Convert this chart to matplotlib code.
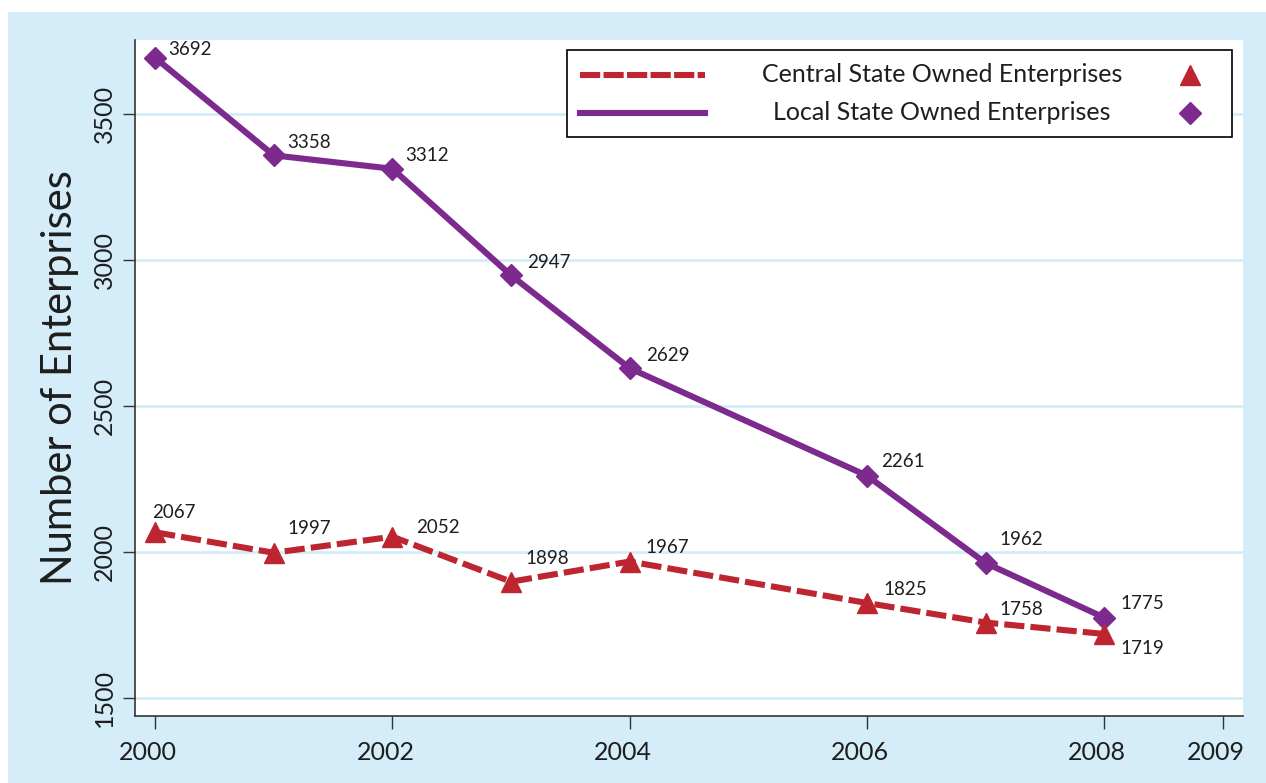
import matplotlib.pyplot as plt
import matplotlib.transforms as mtransforms
from matplotlib.patches import Rectangle
from matplotlib.lines import Line2D

plt.rcParams['font.family'] = ['Lato', 'DejaVu Sans']

years_central = [2000, 2001, 2002, 2003, 2004, 2006, 2007, 2008]
central_soe = [2067, 1997, 2052, 1898, 1967, 1825, 1758, 1719]

years_local = [2000, 2001, 2002, 2003, 2004, 2006, 2007, 2008]
local_soe = [3692, 3358, 3312, 2947, 2629, 2261, 1962, 1775]

series_names = ['Central State Owned Enterprises', 'Local State Owned Enterprises']

x_ticks = [2000, 2002, 2004, 2006, 2008, 2009]
y_ticks = [1500, 2000, 2500, 3000, 3500]

# label offsets in pixels (dx, dy), text anchored left-center
central_offsets = [(-3, 20), (14, 24), (24, 9), (14, 23), (16, 14), (16, 13), (14, 13), (16, -15)]
local_offsets = [(13, 8), (13, 13), (13, 13), (16, 13), (16, 13), (14, 14), (14, 23), (16, 14)]

RED = '#bd2531'
PURPLE = '#7d2a8e'
BG = '#d4edf9'
GRID = '#d4ecf8'
INK = '#1e1e1e'

W, H = 1266, 783
AX_L, AX_R, AX_T, AX_B = 135, 1243, 40, 716

fig = plt.figure(figsize=(W / 100, H / 100), dpi=100, facecolor='white')
fig.patches.append(Rectangle((8 / W, 0), 1 - 8 / W, 1 - 12 / H,
                             transform=fig.transFigure, facecolor=BG,
                             edgecolor='none', zorder=-10))

ax = fig.add_axes([AX_L / W, (H - AX_B) / H, (AX_R - AX_L) / W, (AX_B - AX_T) / H])
ax.set_facecolor('white')

ax.plot(years_local, local_soe, color=PURPLE, lw=4.4, marker='D', ms=11,
        solid_joinstyle='miter', zorder=3)
ax.plot(years_central, central_soe, color=RED, lw=4.4, marker='^', ms=14,
        dashes=(3.3, 1.0), dash_capstyle='butt', zorder=3)

for x, y, off in zip(years_central, central_soe, central_offsets):
    ax.annotate(str(y), (x, y), xytext=off, textcoords='offset pixels',
                ha='left', va='center', fontsize=13.5, color=INK)
for x, y, off in zip(years_local, local_soe, local_offsets):
    ax.annotate(str(y), (x, y), xytext=off, textcoords='offset pixels',
                ha='left', va='center', fontsize=13.5, color=INK)

ax.set_xlim(1999.83, 2009.17)
ax.set_ylim(1438, 3753)
ax.set_xticks(x_ticks)
ax.set_yticks(y_ticks)
ax.tick_params(axis='x', labelsize=18, length=9, width=1, color='#333333', pad=9,
               labelcolor=INK)
ax.tick_params(axis='y', labelsize=18, length=9, width=1, color='#333333', pad=5,
               labelrotation=90, labelcolor=INK)
shift = mtransforms.ScaledTranslation(-7 / 100, 0, fig.dpi_scale_trans)
for lab in ax.get_xticklabels():
    lab.set_transform(lab.get_transform() + shift)
for lab in ax.get_yticklabels():
    lab.set_va('center')
ax.yaxis.grid(True, color=GRID, lw=2)
ax.set_axisbelow(True)
for s in ['top', 'right']:
    ax.spines[s].set_visible(False)
for s in ['left', 'bottom']:
    ax.spines[s].set_color('#333333')
    ax.spines[s].set_linewidth(1.2)

ax.set_ylabel('Number of Enterprises', fontsize=30, labelpad=10, color=INK)


# legend box drawn in axes fraction, from pixel layout of the reference
def px(x, y):
    return (x - AX_L) / (AX_R - AX_L), (AX_B - y) / (AX_B - AX_T)


x0, y0 = px(567, 137)
x1, y1 = px(1232, 50)
ax.add_patch(Rectangle((x0, y0), x1 - x0, y1 - y0, transform=ax.transAxes,
                       facecolor='white', edgecolor='black', lw=1.2, zorder=5))
rows = [(75, RED, '^', 14, (3.3, 0.55)), (113, PURPLE, 'D', 11, None)]
for name, (ry, col, mk, ms, dash) in zip(series_names, rows):
    ha, ya = px(580, ry)
    hb, _ = px(705, ry)
    ln = Line2D([ha, hb], [ya, ya], transform=ax.transAxes, color=col, lw=4.4,
                zorder=6, dash_capstyle='butt')
    if dash:
        ln.set_dashes(dash)
    ax.add_line(ln)
    tx, _ = px(942, ry)
    ax.text(tx, ya, name, transform=ax.transAxes, ha='center', va='center',
            fontsize=18, color=INK, zorder=6)
    mx, _ = px(1190, ry)
    ax.add_line(Line2D([mx], [ya], transform=ax.transAxes, color=col, marker=mk,
                       ms=ms, ls='none', zorder=6))

fig.savefig('out.png', dpi=100, facecolor=fig.get_facecolor())
